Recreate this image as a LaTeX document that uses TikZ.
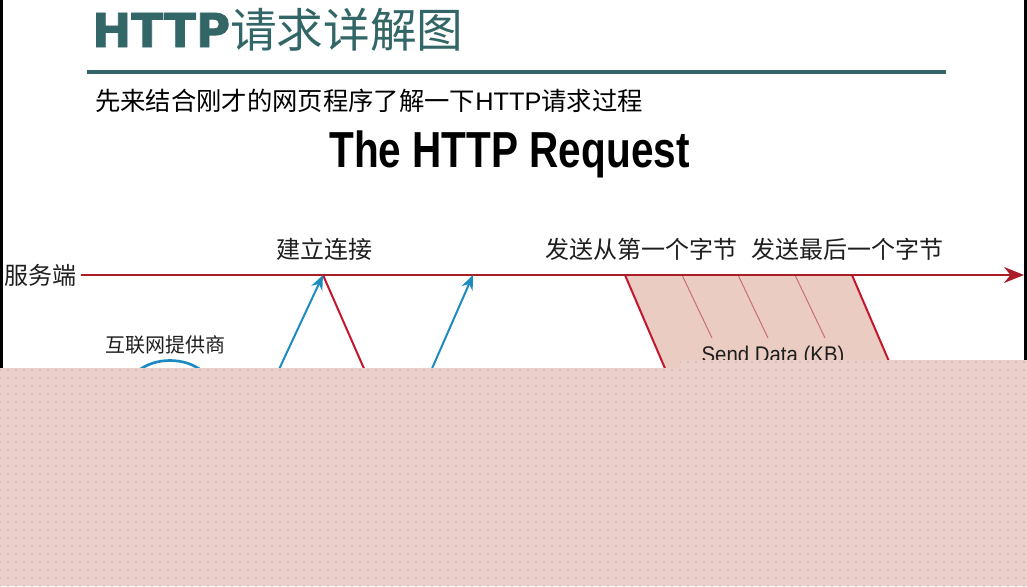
\documentclass[tikz,border=0pt]{standalone}
\usepackage{fontspec}
\usepackage{graphicx}
\setmainfont{Liberation Sans}
\newfontfamily\cjk{Noto Sans CJK SC}
\newfontfamily\heavy{DejaVu Sans}[BoldFeatures={FakeBold=1.6}]
\usetikzlibrary{arrows.meta,patterns.meta}
\definecolor{titleteal}{RGB}{51,102,102}
\definecolor{timered}{RGB}{170,28,40}
\definecolor{edgered}{RGB}{196,22,44}
\definecolor{packetfill}{RGB}{234,204,194}
\definecolor{packetline}{RGB}{200,112,112}
\definecolor{synblue}{RGB}{28,140,192}
\definecolor{labelgray}{RGB}{30,30,30}
\definecolor{veilpink}{RGB}{234,207,202}
\definecolor{veildot}{RGB}{176,140,140}

\tikzdeclarepattern{
  name=veildots,
  type=uncolored,
  bottom left={(-1pt,-1pt)},
  top right={(5pt,5pt)},
  tile size={(6pt,6pt)},
  code={\fill (0pt,0pt) circle [radius=0.55pt];}
}

\begin{document}
\begin{tikzpicture}[x=0.75pt, y=-0.75pt,
    eventtext/.style={inner sep=0pt, text=labelgray, font=\cjk\fontsize{18}{20}\selectfont},
    synarrow/.style={synblue, line width=1.5pt, -{Stealth[length=11pt,width=9pt]}},
    packetedge/.style={edgered, line width=1.5pt},
]
    \useasboundingbox (0,0) rectangle (1027,586);

    % title block
    \node[anchor=base west, inner sep=0pt, text=titleteal] (title) at (92,47)
        {\fontsize{35}{40}\selectfont{\heavy\bfseries HTTP}{\cjk 请求详解图}};
    \draw[titleteal, line width=3pt] (87,72) -- (946,72);
    \node[anchor=base west, inner sep=0pt] (intro) at (95,110)
        {\fontsize{19}{22}\selectfont{\cjk 先来结合刚才的网页程序了解一下}HTTP{\cjk 请求过程}};
    \node[anchor=base west, inner sep=0pt] (heading) at (329,167)
        {\fontsize{38}{44}\selectfont\bfseries\scalebox{0.8}[1]{The HTTP Request}};

    % points on the server time line
    \coordinate (syn) at (323,275);
    \coordinate (ack) at (473,275);
    \coordinate (first) at (625,275);
    \coordinate (last) at (852,275);
    \coordinate (tend) at (1024,275);
    \coordinate (synfoot) at (274,380);
    \coordinate (rstfoot) at (369,380);
    \coordinate (ackfoot) at (427,380);
    \coordinate (firstfoot) at (670,380);
    \coordinate (lastfoot) at (897,380);

    % data packet band
    \fill[packetfill] (first) -- (last) -- (lastfoot) -- (firstfoot) -- cycle;
    \foreach \x in {682,738,795}
        \draw[packetline, line width=0.75pt] (\x,275) -- ++(30,63);
    \draw[packetedge] (first) -- (firstfoot);
    \draw[packetedge] (last) -- (lastfoot);
    \draw[packetedge] (syn) -- (rstfoot);

    \node[eventtext, anchor=west] (server) at (4,275) {服务端};
    \draw[timered, line width=1.5pt, -{Stealth[length=15pt,width=12pt]}, shorten <=3pt] (server) -- (tend);

    \draw[synarrow] (synfoot) -- (syn);
    \draw[synarrow] (ackfoot) -- (ack);

    \node[eventtext] (connect) at (324,249) {建立连接};
    \node[eventtext] (firstbyte) at (641,249) {发送从第一个字节};
    \node[eventtext] (lastbyte) at (847,249) {发送最后一个字节};
    \node[eventtext, font=\cjk\fontsize{15}{17}\selectfont] (isp) at (165,345) {互联网提供商};
    \draw[synblue, line width=2pt] (138,371) .. controls (155,357) and (185,357) .. (202,371);
    \node[anchor=base, inner sep=0pt, text=labelgray, font=\fontsize{17}{19}\selectfont] (senddata) at (773,362)
        {\scalebox{0.9}[1]{Send Data (KB)}};

    % pink veil over the lower part
    \path[preaction={fill=veilpink}, pattern=veildots, pattern color=veildot] (0,368) rectangle (680,586);
    \path[preaction={fill=veilpink}, pattern=veildots, pattern color=veildot] (680,360) rectangle (1027,586);

    % frame edges
    \fill[black] (0,0) rectangle (3,368);
    \fill[black] (1024,0) rectangle (1027,360);
\end{tikzpicture}
\end{document}
